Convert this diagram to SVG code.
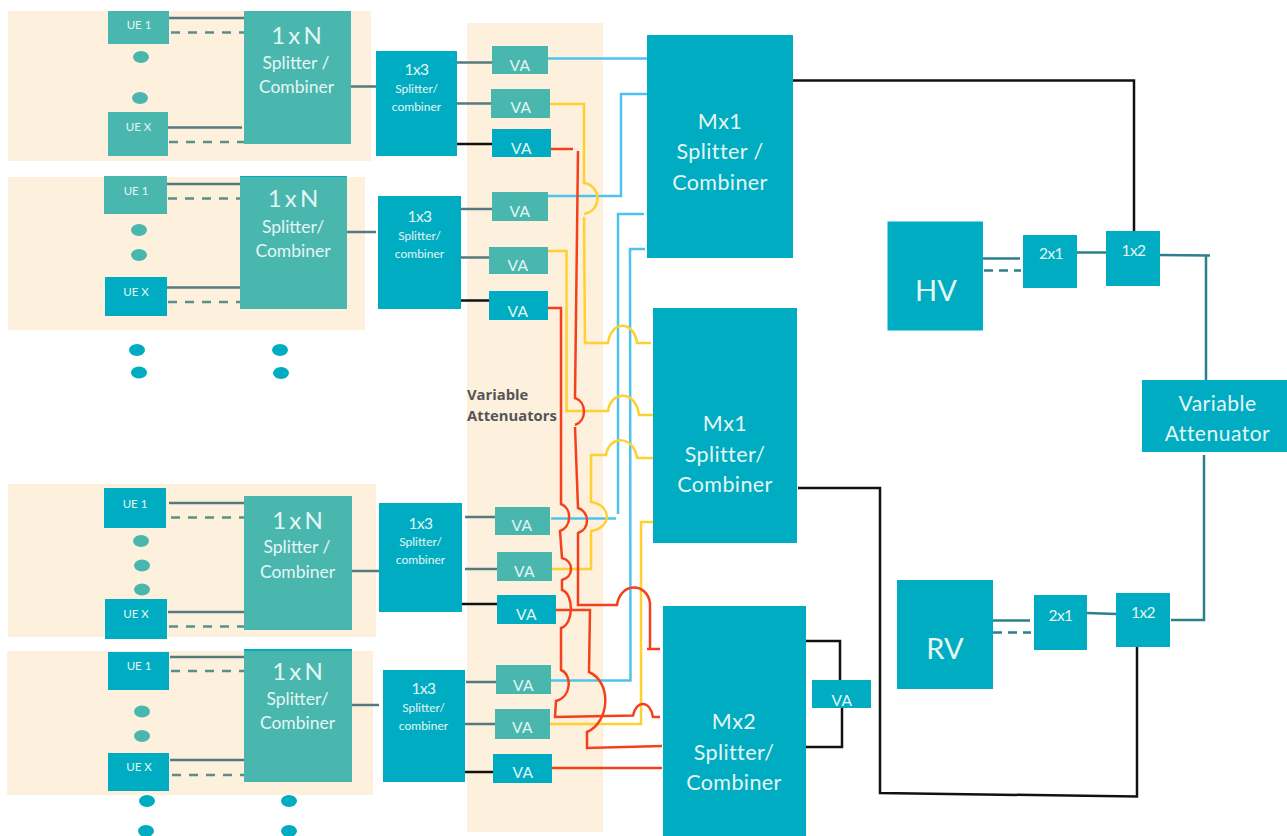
<svg xmlns="http://www.w3.org/2000/svg" width="1287" height="836" viewBox="0 0 1287 836">
<style>
text{font-family:Lato,"Noto Sans","Liberation Sans",sans-serif;text-anchor:middle;fill:#e4f6f5}
.t{fill:#4ab7ae}.b{fill:#00acc1}.bg{fill:#fdf1de}
.ue{font-size:11.500px}.big{font-size:24px;word-spacing:-3px}.m{font-size:17.500px}.s3{font-size:15.500px;letter-spacing:-.5px}.s{font-size:12px}.va{font-size:15.500px;letter-spacing:.5px}.mx{font-size:21.500px;letter-spacing:.4px}.hv{font-size:29px}.lab{font-family:"Open Sans","Liberation Sans",sans-serif;font-size:14.800px;font-weight:700;fill:#555;text-anchor:start}
path{fill:none}
.g{stroke:#56797e;stroke-width:2.500}.d{stroke:#5a8f88;stroke-width:2.500;stroke-dasharray:9 8}
.k{stroke:#111;stroke-width:2.500}.n{stroke:#2c7f8c;stroke-width:2.500}.nd{stroke:#2c7f8c;stroke-width:2.500;stroke-dasharray:9 6}
.bl{stroke:#4fc3ee;stroke-width:2.500}.y{stroke:#ffd02f;stroke-width:2.500}.r{stroke:#f4411c;stroke-width:2.500}
</style>
<g id="backgrounds">
<rect class="bg" x="8" y="11" width="363" height="150"/>
<rect class="bg" x="8" y="177" width="357" height="153"/>
<rect class="bg" x="8" y="484" width="368" height="153"/>
<rect class="bg" x="7" y="651" width="366" height="144"/>
<rect class="bg" x="467" y="23" width="136" height="809"/>
</g>
<g id="connectors">
<path class="g" d="M169 18H244M167 127.500H242M166 184H240M166 287.500H242M169 503H244M168 612H244M170 657H245M170 760H245"/>
<path class="d" d="M171 32.500H247M169 142H244M168 198.500H243M168 302H243M171 517.500H247M169 626.500H244M171 671H247M172 775H248"/>
<path class="g" d="M348 86.500H378M346 232H376M349 571H379M349 705H379"/>
<path class="g" d="M457 62.500H492M457 103.500H491M461 209H492M461 257.500H489M465 517H495M465 569H497M466 682H496M465 724H495"/>
<path class="k" d="M457 144H492M461 300.500H489M462 604H497M461 772H493"/>
<path class="bl" d="M548 58.500H647M548 196H621V94H647M551 518.500H616M618 514V214H644M550 680.500H630.500L630 249H645"/>
<path class="y" d="M550 104H584V183C602 186 602 211 584 214M584 217L585 343H608C611 320 634 320 637 343H651M548 251H566.500V411H608C611 390 636 390 639 415H655M552 569H591V531C612 528 612 505 591 502V455H606C609 435 634 435 637 458H653M550 724H641V522H653"/>
<path class="r" d="M551 149H573M578 151L575 398C587 402 587 421 575 425M575 427L578 508C590 512 590 529 578 533V605H617C620 582 647 582 650 603V649M647 649H660"/>
<path class="r" d="M546 308H561V504C572 508 572 527 560 531L562 558C574 561 574 577 562 580V590C574 594 574 624 561 628V670C572 674 572 697 556 701L555 717L633 715.500C636 700 650 700 653 717H660"/>
<path class="r" d="M556 610H590L589 672C612 682 610 722 587 732V748L662 746M552 768H662"/>
<path class="k" d="M793 80.500H1134V231M798 488H880V793L1137 796.500V647M806 641H840V680M842 708V747H806"/>
<path class="n" d="M983 258.500H1020M1077 252.500H1106M1158 255L1210 255.500M1206 256V380M1204 455V620H1171M993 620.500H1030M1087 613L1116 614"/>
<path class="nd" d="M984 270.500H1021M993 632.500H1031"/>
</g>
<g id="dots">
<ellipse class="t" cx="141" cy="57" rx="8" ry="6"/><ellipse class="t" cx="140" cy="98" rx="8" ry="6"/>
<ellipse class="t" cx="139" cy="230" rx="8" ry="6"/><ellipse class="t" cx="139" cy="255" rx="8" ry="6"/>
<ellipse class="t" cx="141" cy="541" rx="8" ry="6"/><ellipse class="t" cx="142" cy="565.500" rx="8" ry="6"/><ellipse class="t" cx="142" cy="589.500" rx="8" ry="6"/>
<ellipse class="t" cx="142" cy="711.500" rx="8" ry="6"/><ellipse class="t" cx="142" cy="736" rx="8" ry="6"/>
<ellipse class="b" cx="137" cy="350" rx="8" ry="6"/><ellipse class="b" cx="139" cy="372.500" rx="8" ry="6"/><ellipse class="b" cx="280" cy="350" rx="8" ry="6"/><ellipse class="b" cx="281" cy="373" rx="8" ry="6"/>
<ellipse class="b" cx="147" cy="801" rx="8" ry="6"/><ellipse class="b" cx="146" cy="831" rx="8" ry="6"/><ellipse class="b" cx="289" cy="801" rx="8" ry="6"/><ellipse class="b" cx="289" cy="831" rx="8" ry="6"/>
</g>
<g id="ue1-a"><rect class="t" x="108" y="11" width="61" height="33"/><text class="ue" x="139" y="29">UE 1</text></g>
<g id="uex-a"><rect class="t" x="108" y="112" width="60" height="44"/><text class="ue" x="138.500" y="131">UE X</text></g>
<g id="ue1-b"><rect class="t" x="104" y="176" width="63" height="38"/><text class="ue" x="136" y="195">UE 1</text></g>
<g id="uex-b"><rect class="b" x="105" y="277" width="62" height="39"/><text class="ue" x="136" y="296">UE X</text></g>
<g id="ue1-c"><rect class="b" x="104" y="488" width="62" height="40"/><text class="ue" x="135" y="508">UE 1</text></g>
<g id="uex-c"><rect class="b" x="105" y="599" width="62" height="40"/><text class="ue" x="136" y="618">UE X</text></g>
<g id="ue1-d"><rect class="b" x="108" y="652" width="61" height="38"/><text class="ue" x="139" y="670">UE 1</text></g>
<g id="uex-d"><rect class="b" x="108" y="753" width="61" height="38"/><text class="ue" x="139" y="771">UE X</text></g>
<g id="onexn-a"><rect class="t" x="244" y="11" width="107" height="133"/><text class="big" x="296.500" y="44">1 x N</text><text class="m" x="296" y="69">Splitter /</text><text class="m" x="296.500" y="93">Combiner</text></g>
<g id="onexn-b"><rect class="b" x="240" y="176" width="107" height="2"/><rect class="t" x="240" y="177" width="107" height="132"/><text class="big" x="293" y="207">1 x N</text><text class="m" x="293" y="232.500">Splitter/</text><text class="m" x="293" y="257">Combiner</text></g>
<g id="onexn-c"><rect class="t" x="244" y="496" width="108" height="134"/><text class="big" x="297.500" y="529">1 x N</text><text class="m" x="297" y="553">Splitter /</text><text class="m" x="297.500" y="577.500">Combiner</text></g>
<g id="onexn-d"><rect class="b" x="244" y="649" width="108" height="3"/><rect class="t" x="244" y="651" width="108" height="131"/><text class="big" x="297.500" y="680">1 x N</text><text class="m" x="297.500" y="705">Splitter/</text><text class="m" x="297.500" y="729">Combiner</text></g>
<g id="onex3-a"><rect class="b" x="376" y="51" width="81" height="105"/><text class="s3" x="416.500" y="75">1x3</text><text class="s" x="416.500" y="93">Splitter/</text><text class="s" x="416.500" y="111">combiner</text></g>
<g id="onex3-b"><rect class="b" x="378" y="196" width="83" height="113"/><text class="s3" x="419.500" y="222">1x3</text><text class="s" x="419.500" y="240">Splitter/</text><text class="s" x="419.500" y="258">combiner</text></g>
<g id="onex3-c"><rect class="b" x="379" y="503" width="83" height="109"/><text class="s3" x="420.500" y="529">1x3</text><text class="s" x="420.500" y="546">Splitter/</text><text class="s" x="420.500" y="564">combiner</text></g>
<g id="onex3-d"><rect class="b" x="383" y="670" width="82" height="112"/><text class="s3" x="423.500" y="694">1x3</text><text class="s" x="423.500" y="712">Splitter/</text><text class="s" x="423.500" y="730">combiner</text></g>
<g id="va1"><rect class="t" x="492" y="46" width="56" height="28"/><text class="va" x="520" y="71">VA</text></g>
<g id="va2"><rect class="t" x="491" y="89" width="59" height="29"/><text class="va" x="521" y="113">VA</text></g>
<g id="va3"><rect class="b" x="492" y="129" width="59" height="28"/><text class="va" x="521.500" y="153.500">VA</text></g>
<g id="va4"><rect class="t" x="492" y="192" width="56" height="29"/><text class="va" x="520" y="216.500">VA</text></g>
<g id="va5"><rect class="t" x="489" y="247" width="59" height="27"/><text class="va" x="518" y="270.500">VA</text></g>
<g id="va6"><rect class="b" x="489" y="291" width="59" height="29"/><text class="va" x="518" y="316.500">VA</text></g>
<g id="va7"><rect class="t" x="495" y="507" width="55" height="28"/><text class="va" x="522" y="531">VA</text></g>
<g id="va8"><rect class="t" x="497" y="552" width="55" height="29"/><text class="va" x="524.500" y="577">VA</text></g>
<g id="va9"><rect class="b" x="497" y="595" width="59" height="29"/><text class="va" x="526.500" y="619.500">VA</text></g>
<g id="va10"><rect class="t" x="496" y="665" width="55" height="29"/><text class="va" x="523.500" y="690.500">VA</text></g>
<g id="va11"><rect class="t" x="495" y="709" width="55" height="30"/><text class="va" x="522.500" y="732.500">VA</text></g>
<g id="va12"><rect class="b" x="493" y="754" width="59" height="29"/><text class="va" x="523" y="778">VA</text></g>
<g id="va13"><rect class="b" x="812" y="680" width="59" height="28"/><text class="va" x="842" y="705.500">VA</text></g>
<text class="lab" x="467" y="400">Variable</text><text class="lab" x="467" y="421">Attenuators</text>
<g id="mx1-a"><rect class="b" x="647" y="35" width="146" height="223"/><text class="mx" x="720" y="129">Mx1</text><text class="mx" x="720" y="159">Splitter /</text><text class="mx" x="720" y="190">Combiner</text></g>
<g id="mx1-b"><rect class="b" x="653" y="308" width="144" height="235"/><text class="mx" x="725" y="431">Mx1</text><text class="mx" x="725" y="462">Splitter/</text><text class="mx" x="725" y="492">Combiner</text></g>
<g id="mx2"><rect class="b" x="663" y="606" width="143" height="230"/><text class="mx" x="734" y="729">Mx2</text><text class="mx" x="734" y="760">Splitter/</text><text class="mx" x="734" y="790">Combiner</text></g>
<g id="hv"><rect class="b" x="887.500" y="221.500" width="95.500" height="109"/><text class="hv" x="936" y="301">HV</text></g>
<g id="rv"><rect class="b" x="897" y="580" width="96" height="109"/><text class="hv" x="945" y="659">RV</text></g>
<g id="twox1-a"><rect class="b" x="1023" y="235" width="54" height="53"/><text class="s3" x="1051" y="258.500">2x1</text></g>
<g id="onex2-a"><rect class="b" x="1106" y="231" width="54" height="55"/><text class="s3" x="1133.500" y="256">1x2</text></g>
<g id="twox1-b"><rect class="b" x="1034" y="595" width="53" height="55"/><text class="s3" x="1060.500" y="620.500">2x1</text></g>
<g id="onex2-b"><rect class="b" x="1116" y="593" width="54" height="54"/><text class="s3" x="1143" y="618">1x2</text></g>
<g id="variable-attenuator"><rect class="b" x="1142" y="380" width="145" height="72"/><text x="1217.500" y="411" style="font-size:21px;letter-spacing:.5px">Variable</text><text x="1217.500" y="441" style="font-size:21px;letter-spacing:.5px">Attenuator</text></g>
</svg>
